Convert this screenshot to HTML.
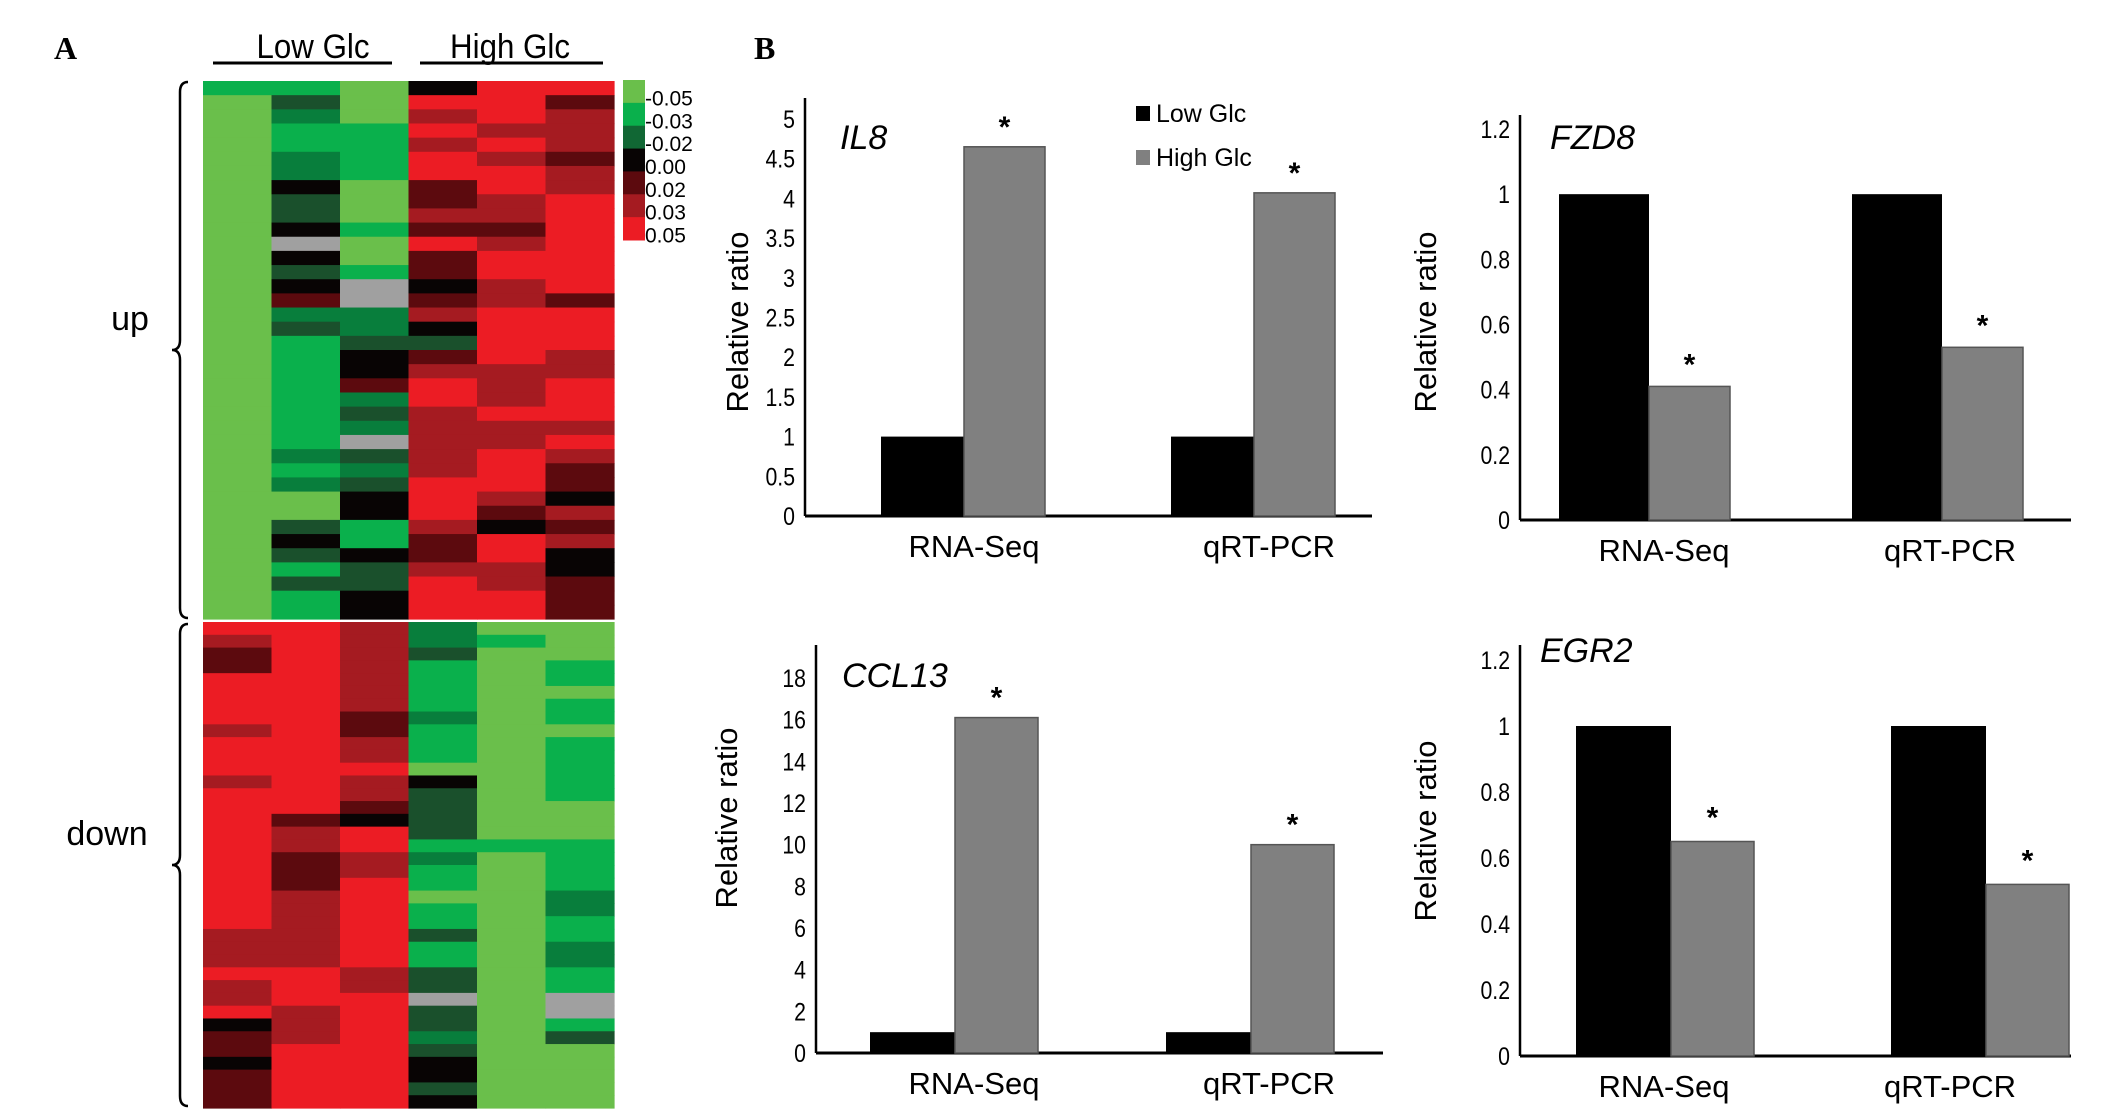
<!DOCTYPE html>
<html><head><meta charset="utf-8"><style>
html,body{margin:0;padding:0;background:#fff;}
svg{display:block;font-family:"Liberation Sans",Arial,sans-serif;}
</style></head><body>
<svg id="fig" width="2126" height="1114" viewBox="0 0 2126 1114" xmlns="http://www.w3.org/2000/svg">
<rect width="2126" height="1114" fill="#fff"/>
<g id="panelA">
 <text x="54" y="59" font-family="Liberation Serif,serif" font-weight="bold" font-size="32">A</text>
 <text x="0" y="0" text-anchor="middle" font-size="34" transform="translate(313,58) scale(0.92,1)">Low Glc</text>
 <line x1="213" y1="63" x2="392" y2="63" stroke="#000" stroke-width="3"/>
 <text x="0" y="0" text-anchor="middle" font-size="34" transform="translate(510,58) scale(0.92,1)">High Glc</text>
 <line x1="420" y1="63" x2="603" y2="63" stroke="#000" stroke-width="3"/>
 <path d="M188,82 Q180,82 180,92 L180,340 Q180,350 172,350 Q180,350 180,360 L180,608 Q180,618 188,618" fill="none" stroke="#000" stroke-width="2.5"/>
 <text x="130" y="330" text-anchor="middle" font-size="34">up</text>
 <path d="M188,624 Q180,624 180,634 L180,855 Q180,865 172,865 Q180,865 180,875 L180,1096 Q180,1106 188,1106" fill="none" stroke="#000" stroke-width="2.5"/>
 <text x="107" y="845" text-anchor="middle" font-size="34">down</text>
 <g id="cells"></g>
 <g id="cbar"></g>
</g>
<text x="754" y="59" font-family="Liberation Serif,serif" font-weight="bold" font-size="32">B</text>
<g id="charts"></g>
</svg>
<script>
// ---- Heatmap data (codes: G=-0.05 g=-0.035 m=-0.025 d=-0.015 k=0 r=0.015 R=0.03 E=0.05 x=missing)
const codeValues = {G:-0.05,g:-0.035,m:-0.025,d:-0.015,k:0,r:0.015,R:0.03,E:0.05,x:null};
const upCol1 = "gGGGGGGGGGGGGGGGGGGGGGGGGGGGGGGGGGGGGG";
const upCol2 = "gdmggmmkddkxkdkrmdggggggggmgmGGdkdgdgg";
const upCol3 = "GGGggggGGGgGGgxxmmdkkrmdmxdmdkkggkddkk";
const upCol4 = "kEREREErrRrErrkrRkdrREERRRRREEERrrREEE";
const upCol5 = "EEEREREERRrREERREEEERRRERREEERrkEERREE";
const upCol6 = "ErRRRrRREEEEEEErEEERREEERERrrkRrRkkrrr";
const downCol1 = "ERrrEEEEREEEREEEEEEEEEEERRRERREkrrkrrr";
const downCol2 = "EEEEEEEEEEEEEEErRRrrrRRRRRREEERRREEEEE";
const downCol3 = "RRRRRRRrrRRERRrkEERREEEEEEERREEEEEEEEE";
const downCol4 = "mmdggggmgggGkddddgmggGggdggddxddmdkkdk";
const downCol5 = "GgGGGGGGGGGGGGGGGgGGGGGGGGGGGGGGGGGGGG";
const downCol6 = "GGGggGggGgggggGGGggggmmggmmggxxgdGGGGG";
const cbarTicks = ["-0.05","-0.03","-0.02","0.00","0.02","0.03","0.05"];
const cbarValues = [-0.05,-0.035,-0.02,0,0.015,0.03,0.05];

// ---- Bar chart data
const categories = ["RNA-Seq","qRT-PCR"];
const il8Low = [1,1];
const il8High = [4.65,4.07];
const il8Ticks = [0,0.5,1,1.5,2,2.5,3,3.5,4,4.5,5];
const fzd8Low = [1,1];
const fzd8High = [0.41,0.53];
const fzd8Ticks = [0,0.2,0.4,0.6,0.8,1,1.2];
const ccl13Low = [1,1];
const ccl13High = [16.1,10.0];
const ccl13Ticks = [0,2,4,6,8,10,12,14,16,18];
const egr2Low = [1,1];
const egr2High = [0.65,0.52];
const egr2Ticks = [0,0.2,0.4,0.6,0.8,1,1.2];

const NS="http://www.w3.org/2000/svg";
function mk(tag,attrs,parent,text){const e=document.createElementNS(NS,tag);for(const k in attrs)e.setAttribute(k,attrs[k]);if(text!==undefined)e.textContent=text;parent.appendChild(e);return e;}

const stops=[[-0.05,[106,191,75]],[-0.035,[10,176,76]],[-0.025,[8,126,60]],[-0.015,[26,80,44]],[0,[8,4,4]],[0.015,[92,10,14]],[0.03,[165,27,33]],[0.05,[236,28,36]]];
function colorOf(v){
 if(v===null) return "#a0a0a0";
 if(v<=stops[0][0]) return "rgb("+stops[0][1]+")";
 for(let i=1;i<stops.length;i++){ if(v<=stops[i][0]){const a=stops[i-1],b=stops[i];const t=(v-a[0])/(b[0]-a[0]);return "rgb("+a[1].map((c,j)=>Math.round(c+(b[1][j]-c)*t)).join(",")+")";}}
 return "rgb("+stops[stops.length-1][1]+")";
}
const cellsG=document.getElementById('cells');
const hmX0=203,hmX1=614;
const colW=(hmX1-hmX0)/6;
function drawSection(cols,y0,y1){
 cols.forEach((col,ci)=>{
  const n=col.length,h=(y1-y0)/n;
  for(let ri=0;ri<n;ri++){
   const v=codeValues[col[ri]];
   const r=mk('rect',{x:hmX0+ci*colW,y:y0+ri*h,width:colW+0.6,height:h+0.6,fill:colorOf(v)},cellsG);
   
   
  }
 });
}
drawSection([upCol1,upCol2,upCol3,upCol4,upCol5,upCol6],81,619);
drawSection([downCol1,downCol2,downCol3,downCol4,downCol5,downCol6],622,1108);

const cb=document.getElementById('cbar');
const cbY0=80,cbY1=240,cbH=(cbY1-cbY0)/cbarValues.length;
cbarValues.forEach((v,i)=>{
 const r=mk('rect',{x:623,y:cbY0+i*cbH,width:22,height:cbH+0.5,fill:colorOf(v)},cb);
 
 
 const t=mk('text',{x:645,y:cbY0+i*cbH+cbH/2+14,'font-size':21},cb,cbarTicks[i]);
 
 
});

const charts=document.getElementById('charts');
function barChart(o){
 const g=mk('g',{},charts);
 
 
 const y=v=>o.yb-(v-o.ticks[0])/(o.ticks[o.ticks.length-1]-o.ticks[0])*(o.yb-o.yt);
 const ax=mk('line',{x1:o.ax,y1:o.ytop,x2:o.ax,y2:o.yb,stroke:'#000','stroke-width':2.5},g);
 
 
 const bx=mk('line',{x1:o.ax,y1:o.yb,x2:o.xend,y2:o.yb,stroke:'#000','stroke-width':3},g);
 
 
 o.ticks.forEach(t=>{
  const tl=mk('text',{x:0,y:0,'text-anchor':'end','font-size':25,transform:`translate(${o.ax-10},${y(t)+9}) scale(0.85,1)`},g,String(t));
  
  
 });
 const yt=mk('text',{x:0,y:0,'text-anchor':'middle','font-size':31,transform:`translate(${o.titleX},${o.titleY}) rotate(-90)`},g,'Relative ratio');
 
 
 const gl=mk('text',{x:o.gx,y:o.gy,'font-size':34,'font-style':'italic'},g,o.gene);
 
 
 categories.forEach((c,i)=>{
  const x0=o.groupX[i];
  const b1=mk('rect',{x:x0,y:y(o.low[i]),width:o.bw,height:o.yb-y(o.low[i]),fill:'#000'},g);
  
  
  const b2=mk('rect',{x:x0+o.bw,y:y(o.high[i]),width:o.bw2,height:o.yb-y(o.high[i]),fill:'#808080',stroke:'#555','stroke-width':1.5},g);
  
  
  const st=mk('text',{x:x0+o.bw+o.bw2/2,y:y(o.high[i])-o.starGap,'text-anchor':'middle','font-size':30,'font-weight':'bold'},g,'*');
  
  
  const cl=mk('text',{x:o.catX[i],y:o.yb+41,'text-anchor':'middle','font-size':31},g,c);
  
  
 });
 return g;
}
barChart({name:'il8',gene:'IL8',low:il8Low,high:il8High,ticks:il8Ticks,ax:805,ytop:98,yt:119,yb:516,xend:1372,groupX:[881,1171],bw:83,bw2:81,catX:[974,1269],titleX:748,titleY:322,gx:840,gy:149,starGap:10});
barChart({name:'fzd8',gene:'FZD8',low:fzd8Low,high:fzd8High,ticks:fzd8Ticks,ax:1520,ytop:115,yt:129,yb:520,xend:2071,groupX:[1559,1852],bw:90,bw2:81,catX:[1664,1950],titleX:1436,titleY:322,gx:1550,gy:149,starGap:12});
barChart({name:'ccl13',gene:'CCL13',low:ccl13Low,high:ccl13High,ticks:ccl13Ticks,ax:816,ytop:645,yt:678,yb:1053,xend:1383,groupX:[870,1166],bw:85,bw2:83,catX:[974,1269],titleX:737,titleY:818,gx:842,gy:687,starGap:10});
barChart({name:'egr2',gene:'EGR2',low:egr2Low,high:egr2High,ticks:egr2Ticks,ax:1520,ytop:645,yt:660,yb:1056,xend:2071,groupX:[1576,1891],bw:95,bw2:83,catX:[1664,1950],titleX:1436,titleY:831,gx:1540,gy:662,starGap:14});

// legend
const lg=mk('g',{},charts);


const s1=mk('rect',{x:1136,y:106,width:14,height:15,fill:'#000'},lg);


const t1=mk('text',{x:1156,y:122,'font-size':25},lg,'Low Glc');


const s2=mk('rect',{x:1136,y:150,width:14,height:15,fill:'#808080'},lg);


const t2=mk('text',{x:1156,y:166,'font-size':25},lg,'High Glc');


</script>
</body></html>
